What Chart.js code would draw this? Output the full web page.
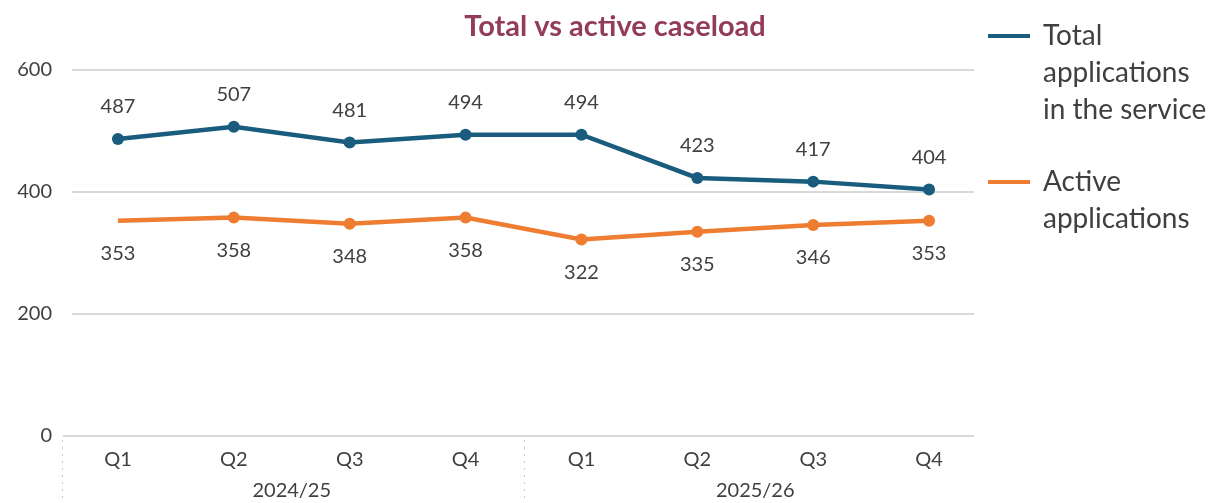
<!DOCTYPE html>
<html>
<head>
<meta charset="utf-8">
<script src="https://cdn.jsdelivr.net/npm/chart.js@4"></script>
<style>
  html, body { margin: 0; padding: 0; background: #fff; }
  #wrap { width: 1216px; height: 503px; position: relative; }
</style>
</head>
<body>
<div id="wrap"><canvas id="chart"></canvas></div>
<script>
const quarters = ['Q1', 'Q2', 'Q3', 'Q4', 'Q1', 'Q2', 'Q3', 'Q4']
const years = ['2024/25', '2025/26']
const totalApplications = [487, 507, 481, 494, 494, 423, 417, 404]
const activeApplications = [353, 358, 348, 358, 322, 335, 346, 353]
const yTicks = [0, 200, 400, 600]

const blue = '#195c7e'
const orange = '#ee7d31'
const textColor = '#404040'
const font = 'Lato, "Open Sans", sans-serif'

// gridlines are inset from the chart area, so draw them by hand
const gridPlugin = {
    id: 'insetGrid',
    beforeDatasetsDraw(chart) {
        const {ctx, chartArea, scales: {y}} = chart
        ctx.save()
        ctx.strokeStyle = '#d9d9d9'
        ctx.lineWidth = 2
        yTicks.forEach(v => {
            const py = Math.round(y.getPixelForValue(v))
            ctx.beginPath()
            ctx.moveTo(v === 0 ? chartArea.left + 3 : chartArea.left + 12, py)
            ctx.lineTo(chartArea.right - 13, py)
            ctx.stroke()
        })
        ctx.restore()
    }
}

// title, value labels, year labels, dotted group separators and the legend
const extrasPlugin = {
    id: 'extras',
    afterDatasetsDraw(chart) {
        const {ctx, chartArea, scales: {x}} = chart
        ctx.save()
        ctx.textAlign = 'center'
        ctx.textBaseline = 'middle'

        ctx.font = 'bold 29px ' + font
        ctx.fillStyle = '#933c5a'
        ctx.fillText('Total vs active caseload', 615, 27)

        ctx.font = '20px ' + font
        ctx.fillStyle = textColor
        chart.getDatasetMeta(0).data.forEach((pt, i) => {
            ctx.fillText(totalApplications[i], pt.x, pt.y - 32)
        })
        chart.getDatasetMeta(1).data.forEach((pt, i) => {
            ctx.fillText(activeApplications[i], pt.x, pt.y + 33)
        })

        // year labels under each group of four quarters
        years.forEach((yr, g) => {
            const cx = (x.getPixelForValue(g * 4) + x.getPixelForValue(g * 4 + 3)) / 2
            ctx.fillText(yr, cx, 491)
        })

        // dotted separators
        ctx.strokeStyle = '#c8c8c8'
        ctx.lineWidth = 1
        ctx.setLineDash([2, 5])
        const seps = [chartArea.left + 2, (x.getPixelForValue(3) + x.getPixelForValue(4)) / 2]
        seps.forEach(sx => {
            ctx.beginPath()
            ctx.moveTo(Math.round(sx) + 0.5, chartArea.bottom + 4)
            ctx.lineTo(Math.round(sx) + 0.5, chart.height)
            ctx.stroke()
        })
        ctx.setLineDash([])

        // legend with wrapped labels
        const legend = [
            {color: blue, lines: ['Total', 'applications', 'in the service'], top: 36},
            {color: orange, lines: ['Active', 'applications'], top: 182}
        ]
        ctx.textAlign = 'left'
        ctx.font = '28px ' + font
        legend.forEach(item => {
            ctx.strokeStyle = item.color
            ctx.lineWidth = 4
            ctx.beginPath()
            ctx.moveTo(988, item.top)
            ctx.lineTo(1030, item.top)
            ctx.stroke()
            item.lines.forEach((ln, k) => {
                ctx.fillText(ln, 1043, item.top + k * 37)
            })
        })
        ctx.restore()
    }
}

new Chart(document.getElementById('chart'), {
    type: 'line',
    plugins: [gridPlugin, extrasPlugin],
    data: {
        labels: quarters,
        datasets: [
            {
                label: 'Total applications in the service',
                data: totalApplications,
                borderColor: blue,
                backgroundColor: blue,
                borderWidth: 4.5,
                pointRadius: 6,
                pointBorderWidth: 0,
                tension: 0
            },
            {
                label: 'Active applications',
                data: activeApplications,
                borderColor: orange,
                backgroundColor: orange,
                borderWidth: 4.5,
                pointRadius: [0, 6, 6, 6, 6, 6, 6, 6],
                pointBorderWidth: 0,
                tension: 0
            }
        ]
    },
    options: {
        responsive: true,
        maintainAspectRatio: false,
        animation: false,
        layout: {
            padding: {left: 0, right: 229, top: 70, bottom: 0}
        },
        scales: {
            x: {
                type: 'category',
                offset: true,
                grid: {display: false, drawTicks: false},
                border: {display: false},
                ticks: {
                    color: textColor,
                    font: {family: font, size: 20},
                    padding: 12,
                    autoSkip: false,
                    maxRotation: 0
                },
                afterFit(scale) { scale.height = 67 }
            },
            y: {
                min: 0,
                max: 600,
                grid: {display: false, drawTicks: false},
                border: {display: false},
                ticks: {
                    stepSize: 200,
                    color: textColor,
                    font: {family: font, size: 20},
                    padding: 8
                },
                afterFit(scale) { scale.width = 60 }
            }
        },
        plugins: {
            title: {display: false},
            legend: {display: false},
            tooltip: {enabled: false}
        }
    }
})
</script>
</body>
</html>
